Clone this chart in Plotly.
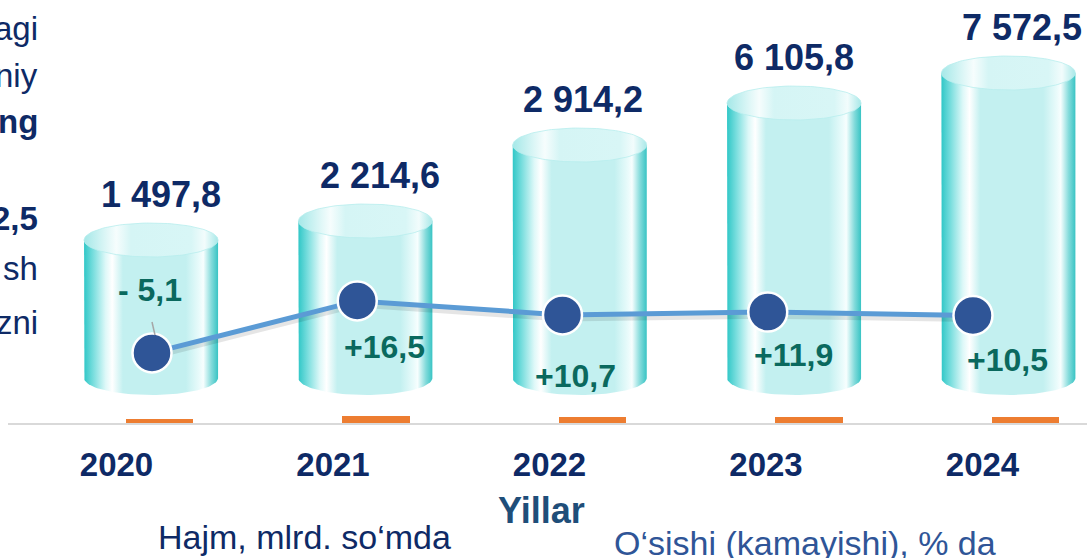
import numpy as np
import plotly.graph_objects as go

# ---------------- data ----------------
years = ["2020", "2021", "2022", "2023", "2024"]
volume = [1497.8, 2214.6, 2914.2, 6105.8, 7572.5]      # Hajm, mlrd. so'mda
growth = [-5.1, 16.5, 10.7, 11.9, 10.5]                # O'sishi (kamayishi), % da
cyl_top = [183, 202, 278, 320, 350]                    # cylinder top level as drawn (chart units)
cyl_base = [45, 45, 45, 45, 45]                        # cylinder base level as drawn
orange_vals = [4.5, 7, 6, 6, 6]                        # small orange bars at the axis

left_texts = ["agi", "niy", "<b>ng</b>", "<b>2,5</b>", "sh", "zni"]

# ---------------- style / layout constants ----------------
W, H = 1087, 558
AXIS_PY = 423                      # pixel row of the x axis line
X_LEFT_PX = 8
PX_PER_UNIT = 216.5
X0 = -(159.5 - X_LEFT_PX) / PX_PER_UNIT
X1 = X0 + (W - X_LEFT_PX) / PX_PER_UNIT
Y2_RANGE = [-34.2, 141.5]

NAVY = "#0E2A66"
TEAL_TXT = "#0A695E"
FONT = "Liberation Sans, Arial, sans-serif"

cyl_x = [-0.039 + 0.99 * i for i in range(5)]
line_x = [-0.0346 + 0.948 * i for i in range(5)]
RX = 67 / PX_PER_UNIT
RY = 17

vol_xshift = [10, 15, 3, 0, 14]
gr_xshift = [-2, 27, 13, 26, 35]
gr_yshift = [63, -46, -61, -43, -45]
left_py = [28, 75, 122, 218, 268, 322]

body_scale = [
    [0.0, "#30C7C7"], [0.07, "#7ADEDE"], [0.16, "#DDF8F8"], [0.21, "#FFFFFF"],
    [0.29, "#C3F0F0"], [0.76, "#C3F0F0"], [0.86, "#E9FBFB"], [0.89, "#F7FEFE"],
    [0.95, "#84DBDB"], [1.0, "#38C4C4"],
]
top_scale = [
    [0.0, "#A5E8E8"], [0.18, "#E3F8F8"], [0.24, "#F6FDFD"], [0.35, "#D5F5F5"],
    [0.8, "#D8F6F6"], [0.9, "#F2FCFC"], [1.0, "#A8E8E8"],
]


def fmt_vol(v):
    s = f"{v:,.1f}"
    return s.replace(",", " ").replace(".", ",")


def fmt_gr(g):
    s = f"{abs(g):.1f}".replace(".", ",")
    return ("+" + s) if g > 0 else ("- " + s)


fig = go.Figure()

t = np.linspace(0, np.pi, 60)
t_full = np.linspace(0, 2 * np.pi, 120)

# cylinders
for i in range(5):
    cx, top, base = cyl_x[i], cyl_top[i], cyl_base[i]
    bx = np.concatenate([[cx - RX], cx - RX * np.cos(t), [cx + RX, cx - RX]])
    by = np.concatenate([[top], base - RY * np.sin(t), [top, top]])
    fig.add_trace(go.Scatter(
        x=bx, y=by, mode="lines", fill="toself",
        line=dict(width=0, color="rgba(0,0,0,0)"),
        fillgradient=dict(type="horizontal", colorscale=body_scale),
        hoverinfo="skip", showlegend=False))
    ex = cx + RX * np.cos(t_full)
    ey = top + RY * np.sin(t_full)
    fig.add_trace(go.Scatter(
        x=ex, y=ey, mode="lines", fill="toself",
        line=dict(width=0.8, color="#B8EDED"),
        fillgradient=dict(type="horizontal", colorscale=top_scale),
        hoverinfo="skip", showlegend=False))

# orange bars at the axis
fig.add_trace(go.Bar(
    x=list(range(5)), y=orange_vals, width=0.31,
    marker=dict(color="#ED7D31", line=dict(width=0)),
    hoverinfo="skip", showlegend=False))

# growth line (secondary axis)
fig.add_trace(go.Scatter(
    x=line_x, y=[g - 1.3 for g in growth], yaxis="y2", mode="lines",
    line=dict(color="rgba(0,0,0,0.10)", width=7),
    hoverinfo="skip", showlegend=False))
fig.add_trace(go.Scatter(
    x=line_x, y=growth, yaxis="y2", mode="lines+markers",
    line=dict(color="#5B9BD5", width=5),
    marker=dict(size=39, color="#2F5597", line=dict(color="white", width=2.5)),
    hoverinfo="skip", showlegend=False))

annotations = []
for i in range(5):
    annotations.append(dict(
        x=cyl_x[i], y=cyl_top[i], xref="x", yref="y",
        xanchor="center", yanchor="middle",
        text=f"<b>{fmt_vol(volume[i])}</b>", showarrow=False,
        xshift=vol_xshift[i], yshift=46,
        font=dict(family=FONT, size=36, color=NAVY)))
for i in range(5):
    annotations.append(dict(
        x=line_x[i], y=growth[i], xref="x", yref="y2",
        xanchor="center", yanchor="middle",
        text=f"<b>{fmt_gr(growth[i])}</b>", showarrow=False,
        xshift=gr_xshift[i], yshift=gr_yshift[i],
        font=dict(family=FONT, size=32, color=TEAL_TXT)))


def paper_text(text, px, py, size, color, xanchor="center"):
    return dict(x=px / W, y=1 - py / H, xref="paper", yref="paper",
                xanchor=xanchor, yanchor="middle", text=text, showarrow=False,
                font=dict(family=FONT, size=size, color=color))


annotations.append(paper_text("<b>Yillar</b>", 541, 510, 36, "#1F4E79"))
annotations.append(paper_text("Hajm, mlrd. so‘mda", 304, 537, 34, NAVY))
annotations.append(paper_text("O‘sishi (kamayishi), % da", 805, 543, 34, "#2F5597"))
for txt, py in zip(left_texts, left_py):
    annotations.append(paper_text(txt, 40, py, 33, NAVY, xanchor="right"))

fig.update_layout(
    width=W, height=H,
    margin=dict(l=0, r=0, t=0, b=0),
    paper_bgcolor="white", plot_bgcolor="white",
    bargap=0,
    xaxis=dict(domain=[X_LEFT_PX / W, 1], range=[X0, X1],
               tickvals=list(range(5)), ticktext=years,
               tickfont=dict(family=FONT, size=33, color=NAVY, weight="bold"),
               ticklabelshift=-43, ticklabelstandoff=11,
               showline=True, linecolor="#D9D9D9", linewidth=2,
               showgrid=False, zeroline=False, ticks=""),
    yaxis=dict(domain=[1 - AXIS_PY / H, 1], range=[0, AXIS_PY],
               visible=False, showgrid=False, zeroline=False),
    yaxis2=dict(overlaying="y", range=Y2_RANGE, visible=False,
                showgrid=False, zeroline=False),
    shapes=[dict(type="line", xref="paper", yref="paper",
                 x0=152 / W, y0=1 - 322 / H, x1=155 / W, y1=1 - 335 / H,
                 line=dict(color="#A6A6A6", width=1.5))],
    annotations=annotations,
    showlegend=False,
)

fig.write_html("out.html", config={"displayModeBar": False},
               post_script="document.body.style.margin='0';")
